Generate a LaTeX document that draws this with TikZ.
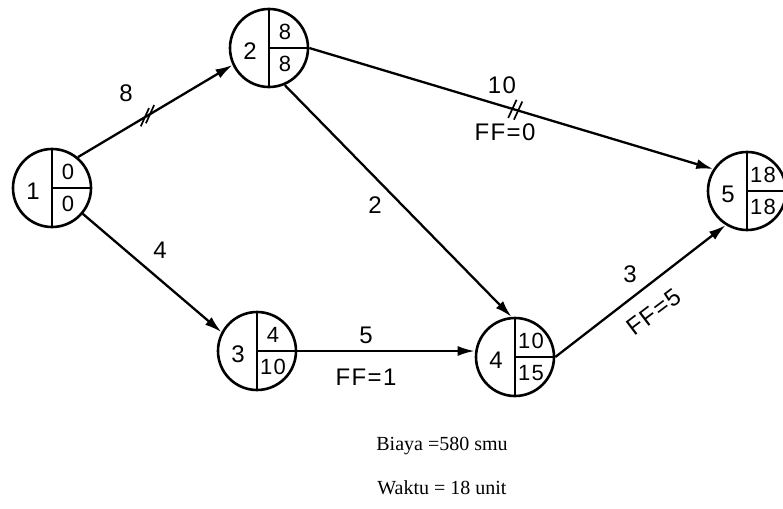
\documentclass[tikz,border=0pt]{standalone}
\usepackage{fontspec}
\setmainfont{Liberation Serif}
\newfontfamily\handfont[LetterSpace=6]{Liberation Sans}
\usetikzlibrary{arrows.meta}
\usetikzlibrary{decorations.markings}
\tikzset{
    event/.style={draw=black, circle, line width=2.6pt, minimum size=78pt, inner sep=0pt,
        path picture={
            \draw[line width=2pt] (path picture bounding box.north) -- (path picture bounding box.south);
            \draw[line width=2pt] (path picture bounding box.center) -- (path picture bounding box.east);
        }},
    activity/.style={draw=black, line width=2.3pt, -{Latex[length=17pt,width=10pt]}},
    % double stroke on the critical activities: position, stroke tilt
    critical/.style 2 args={activity, postaction={decorate},
        decoration={markings, mark=at position #1 with {
            \draw[line width=1.7pt, -, shift={(-3pt,0)}, rotate=#2] (0,-10pt) -- (0,10pt);
            \draw[line width=1.7pt, -, shift={(3pt,0)}, rotate=#2] (0,-10pt) -- (0,10pt);}}},
    hand/.style={font=\handfont\fontsize{24}{24}\selectfont, inner sep=1pt},
    small/.style={font=\handfont\fontsize{22}{22}\selectfont, inner sep=1pt},
    note/.style={font=\fontsize{20}{20}\selectfont, inner sep=1pt},
}
% event circle: number left, earliest / latest time right
\newcommand{\evt}[5]{%
    \node[event] (#1) at (#2) {};
    \node[hand] (#1-no) at ([xshift=-19pt,yshift=-3pt]#1.center) {#3};
    \node[small] (#1-es) at ([xshift=16pt,yshift=16pt]#1.center) {#4};
    \node[small] (#1-ls) at ([xshift=16pt,yshift=-16pt]#1.center) {#5};
}

\begin{document}
\begin{tikzpicture}[x=1pt, y=-1pt]
	\useasboundingbox (0,0) rectangle (783,508);
	\evt{n1}{52,188}{1}{0}{0}
	\evt{n2}{269,48}{2}{8}{8}
	\evt{n3}{257,351}{3}{4}{10}
	\evt{n4}{515,357}{4}{10}{15}
	\evt{n5}{747,191}{5}{18}{18}
	% activities
	\draw[critical={.45}{-55}] (n1.50) -- (n2.205);
	\node[hand] (d12) at (126,93) {8};
	\draw[activity] (n1.-40) -- (n3.152);
	\node[hand] (d13) at (160,250) {4};
	\draw[activity] (n2.-67) -- (n4.95);
	\node[hand] (d24) at (375,205) {2};
	\draw[critical={.51}{-8}] (n2.east) -- (n5.147);
	\node[hand] (d25) at (502,85) {10};
	\node[hand] (f25) at (505,132) {FF=0};
	\draw[activity] (n3.east) -- (n3.east -| n4.west);
	\node[hand] (d34) at (366,335) {5};
	\node[hand] (f34) at (366,377) {FF=1};
	\draw[activity] (n4.east) -- (n5.-122);
	\node[hand] (d45) at (630,274) {3};
	\node[hand, rotate=37] (f45) at (654,312) {FF=5};
	% totals
	\node[note] (biaya) at (442,446) {Biaya =580 smu};
	\node[note] (waktu) at (442,488) {Waktu = 18 unit};
\end{tikzpicture}
\end{document}
